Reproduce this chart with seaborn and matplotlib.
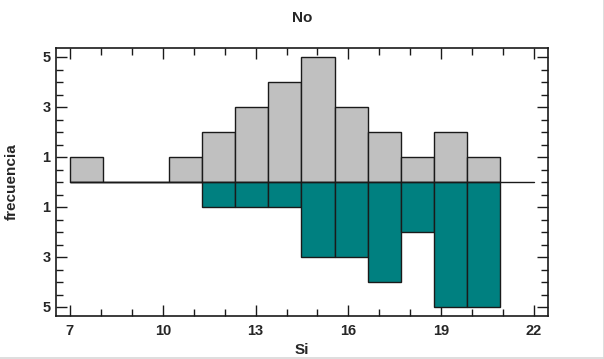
import numpy as np
import pandas as pd
import seaborn as sns
import matplotlib.pyplot as plt
from matplotlib.ticker import MultipleLocator, FixedLocator

# Histogram bins (start, width, count)
bin_start = 7.0
bin_width = 1.069
n_bins = 13
no_counts = [1, 0, 0, 1, 2, 3, 4, 5, 3, 2, 1, 2, 1]
si_counts = [0, 0, 0, 0, 1, 1, 1, 3, 3, 4, 2, 5, 5]

y_ticks = [-5, -3, -1, 1, 3, 5]
x_ticks = [7, 10, 13, 16, 19, 22]

edges = [bin_start + bin_width * i for i in range(n_bins + 1)]
centers = [(a + b) / 2 for a, b in zip(edges[:-1], edges[1:])]
df = pd.DataFrame({"x": centers, "no": no_counts, "si": [-c for c in si_counts]})

sns.set_theme(style="white")
plt.rcParams["font.family"] = ["Liberation Sans", "DejaVu Sans"]
plt.rcParams["font.weight"] = "bold"

fig = plt.figure(figsize=(6.04, 3.59), dpi=100)
ax = fig.add_axes([56 / 604, 1 - 316 / 359, (548 - 56) / 604, (316 - 48) / 359])

sns.histplot(data=df, x="x", weights="no", bins=edges, color="#c0c0c0", alpha=1,
             edgecolor="#1a1a1a", linewidth=1, ax=ax)
sns.histplot(data=df, x="x", weights="si", bins=edges, color="#008080", alpha=1,
             edgecolor="#1a1a1a", linewidth=1, ax=ax)
ax.plot([7, 22], [0, 0], color="#1a1a1a", linewidth=1)

ax.set_xlim(6.55, 22.45)
ax.set_ylim(-5.36, 5.36)
ax.xaxis.set_major_locator(FixedLocator(x_ticks))
ax.xaxis.set_minor_locator(MultipleLocator(1))
ax.yaxis.set_major_locator(FixedLocator(y_ticks))
ax.yaxis.set_minor_locator(MultipleLocator(0.5))
ax.set_yticklabels([str(abs(v)) for v in y_ticks])

ax.tick_params(which="both", direction="in", top=True, right=True, bottom=True, left=True,
               color="#1a1a1a", labelsize=10.5)
ax.tick_params(which="major", length=8, width=1)
ax.tick_params(which="minor", length=5, width=1)
for lab in ax.get_xticklabels() + ax.get_yticklabels():
    lab.set_fontweight("bold")
ax.tick_params(axis="x", pad=6)
ax.tick_params(axis="y", pad=4)

for s in ax.spines.values():
    s.set_visible(True)
    s.set_color("#1a1a1a")
    s.set_linewidth(1.2)

ax.set_title("No", fontsize=11, fontweight="bold", pad=19)
ax.set_xlabel("Si", fontsize=11, fontweight="bold")
ax.xaxis.set_label_coords(0.5, -0.1)
ax.set_ylabel("frecuencia", fontsize=11, fontweight="bold")
ax.yaxis.set_label_coords(-0.076, 0.5)
ax.grid(False)

# light frame on the right and bottom of the figure
fig.add_artist(plt.Line2D([603.5 / 604, 603.5 / 604], [0, 1], color="#d8d8d8", linewidth=1.2))
fig.add_artist(plt.Line2D([0, 1], [1.5 / 359, 1.5 / 359], color="#d8d8d8", linewidth=1.2))

fig.savefig("out.png", dpi=100)
